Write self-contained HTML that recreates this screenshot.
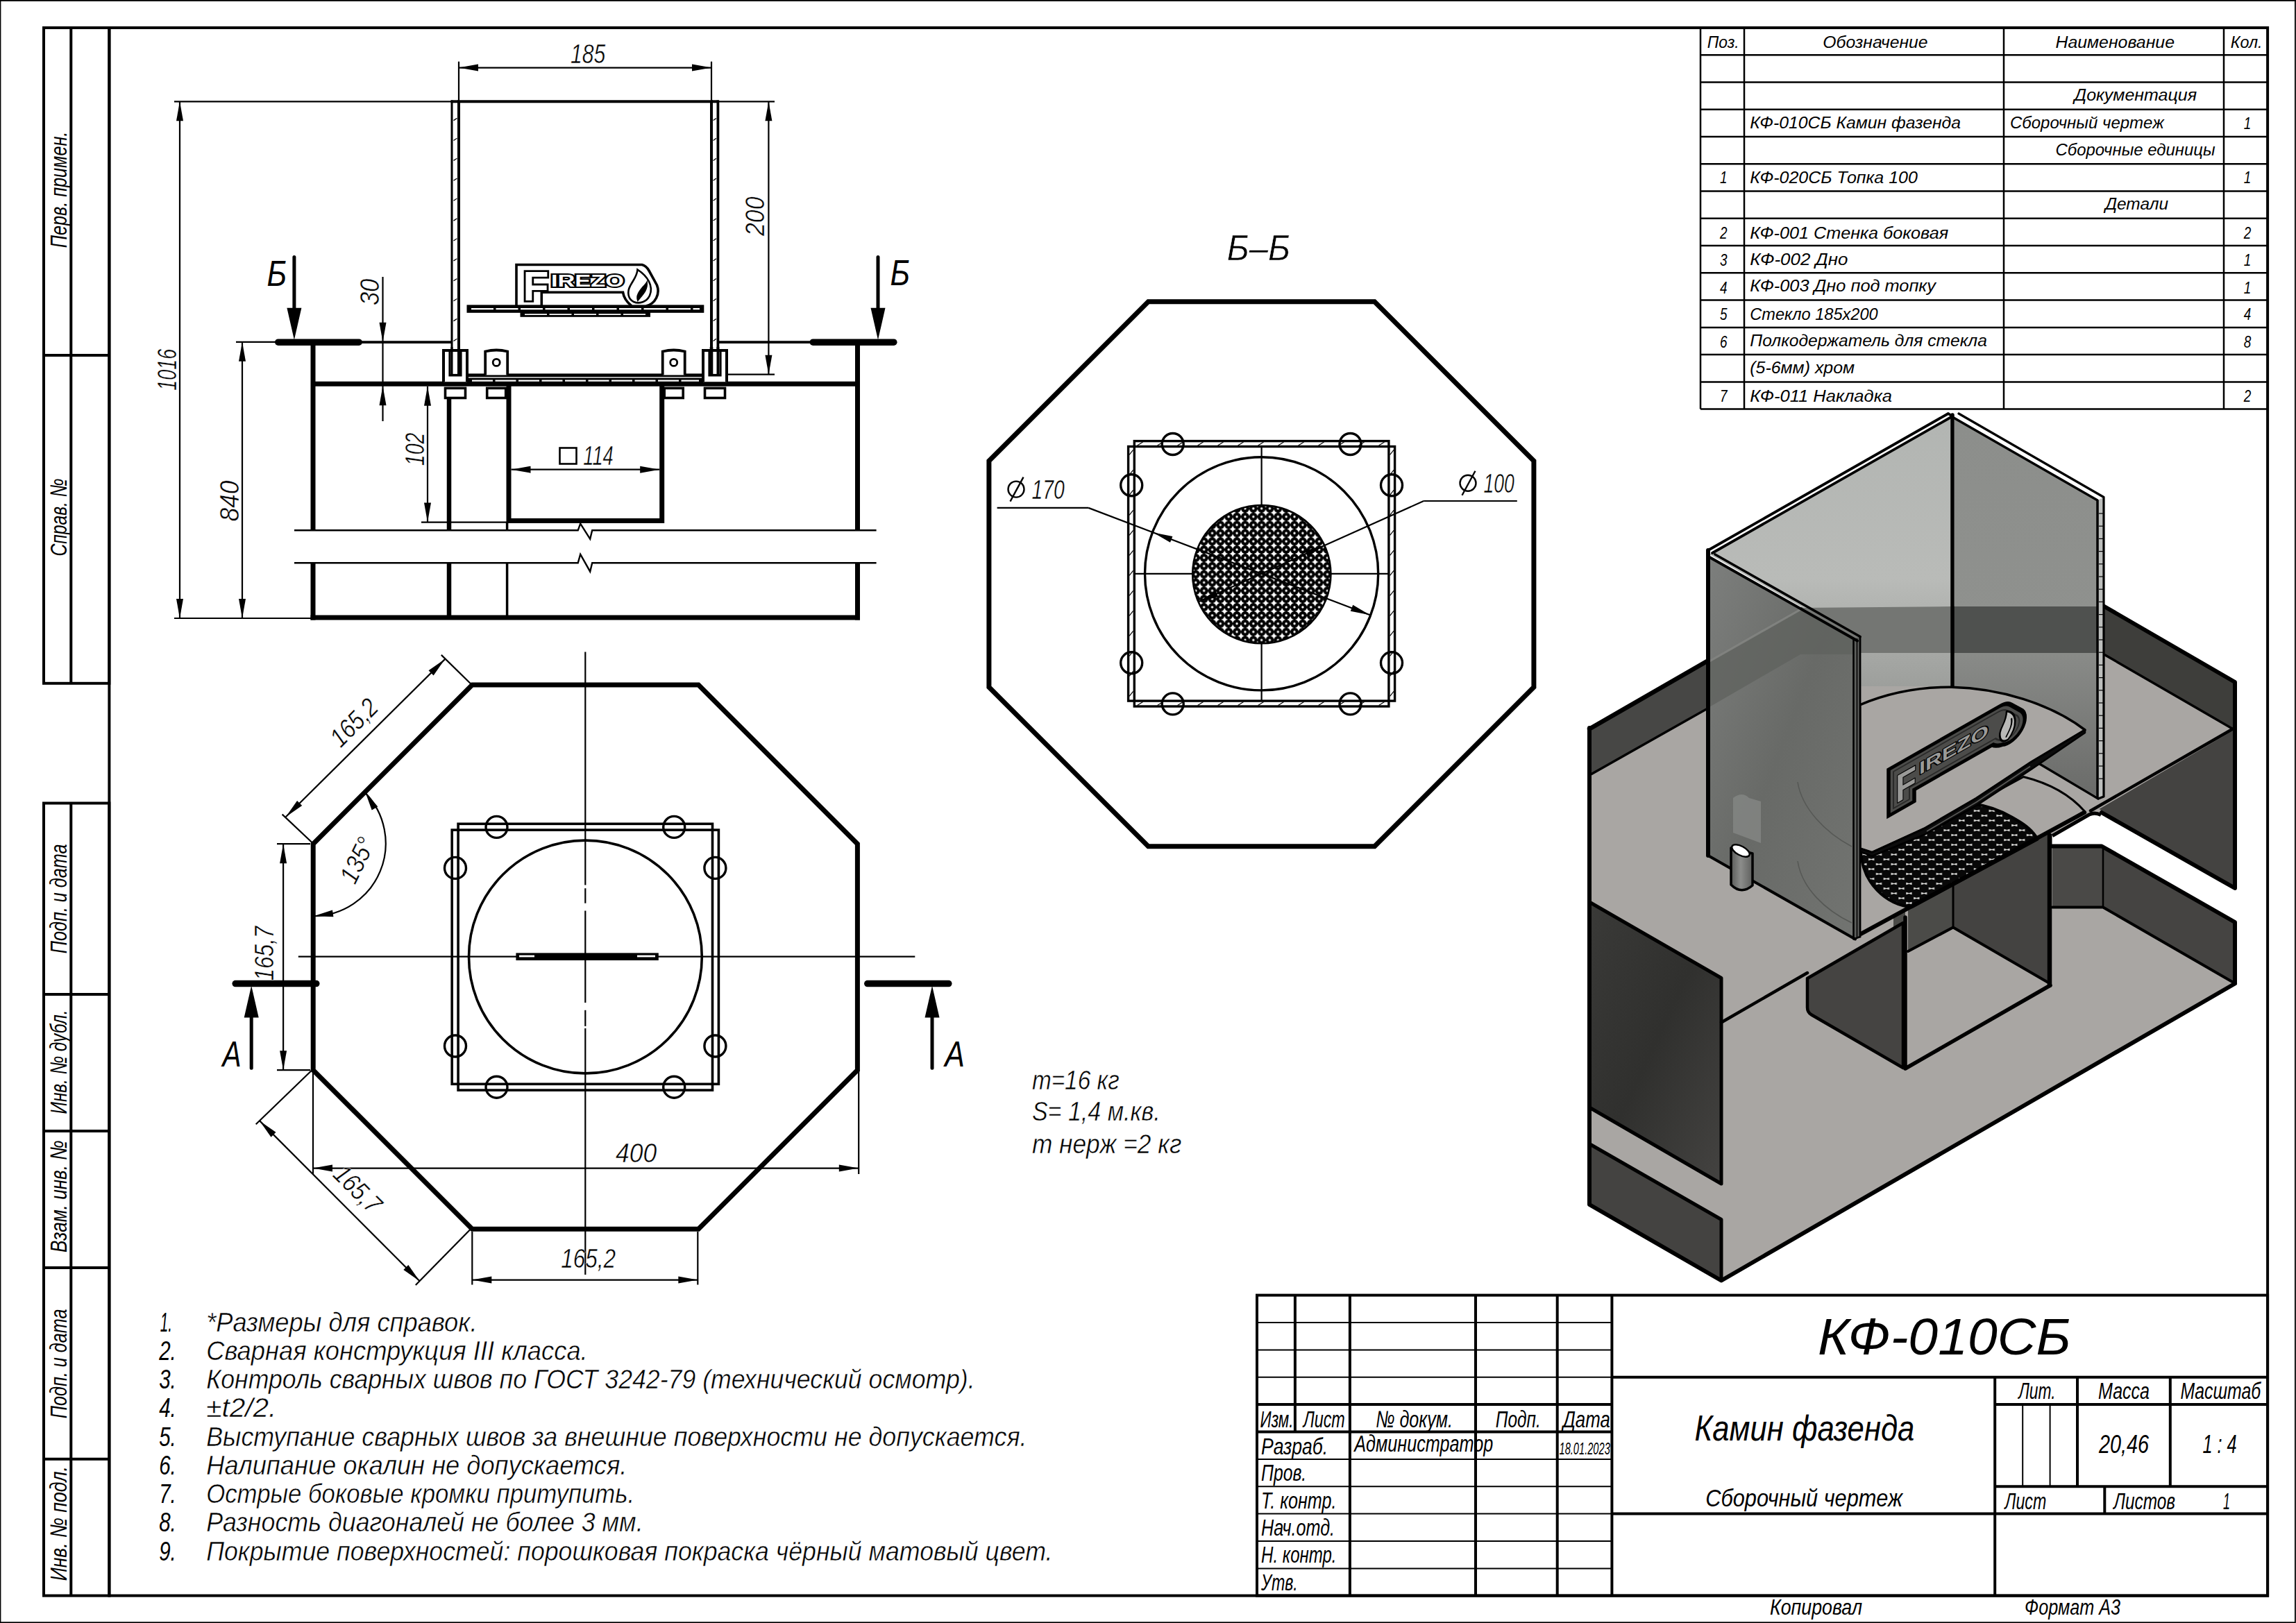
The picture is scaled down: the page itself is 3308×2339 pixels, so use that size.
<!DOCTYPE html>
<html><head><meta charset="utf-8"><title>КФ-010СБ Камин фазенда</title>
<style>
html,body{margin:0;padding:0;background:#fff}
svg{display:block}
text{font-family:"Liberation Sans",sans-serif;fill:#000;stroke:none}
text.g{font-style:italic}
text.w{stroke:#fff;stroke-width:0.5px}
text.a{font-style:italic}
</style></head><body>
<svg width="3308" height="2339" viewBox="0 0 3308 2339" stroke="#000" fill="none" stroke-linecap="butt">
<rect x="0" y="0" width="3308" height="2339" fill="#fff" stroke="none"/>
<g id="frame">
<rect x="0.5" y="0.4" width="3306.4" height="2337.8" stroke-width="1.8" fill="none"/>
<line x1="0" y1="0.8" x2="3308" y2="0.8" stroke-width="1.7" />
<rect x="157.4" y="40" width="3109.7" height="2259.6" stroke-width="4.0" fill="none" />
<rect x="63" y="40" width="94.4" height="944.8" stroke-width="4.0" fill="none" />
<line x1="102.3" y1="40" x2="102.3" y2="984.8" stroke-width="4.0" />
<line x1="63" y1="512" x2="157.4" y2="512" stroke-width="4.0" />
<rect x="63" y="1157.5" width="94.4" height="1142.1" stroke-width="4.0" fill="none" />
<line x1="102.3" y1="1157.5" x2="102.3" y2="2299.6" stroke-width="4.0" />
<line x1="63" y1="1433" x2="157.4" y2="1433" stroke-width="4.0" />
<line x1="63" y1="1630" x2="157.4" y2="1630" stroke-width="4.0" />
<line x1="63" y1="1827" x2="157.4" y2="1827" stroke-width="4.0" />
<line x1="63" y1="2102.8" x2="157.4" y2="2102.8" stroke-width="4.0" />
<rect x="1811" y="1866.6" width="1456.1" height="433" stroke-width="4.0" fill="none" />
<line x1="1944.9" y1="1866.6" x2="1944.9" y2="2299.6" stroke-width="4.0" />
<line x1="2126" y1="1866.6" x2="2126" y2="2299.6" stroke-width="4.0" />
<line x1="2243.7" y1="1866.6" x2="2243.7" y2="2299.6" stroke-width="4.0" />
<line x1="2322.4" y1="1866.6" x2="2322.4" y2="2299.6" stroke-width="4.0" />
<line x1="1865.9" y1="1866.6" x2="1865.9" y2="2063.5" stroke-width="4.0" />
<line x1="2874.2" y1="1984.7" x2="2874.2" y2="2299.6" stroke-width="4.0" />
<line x1="1811" y1="1906" x2="2322.4" y2="1906" stroke-width="2.0" />
<line x1="1811" y1="1945.4" x2="2322.4" y2="1945.4" stroke-width="2.0" />
<line x1="1811" y1="1984.7" x2="2322.4" y2="1984.7" stroke-width="2.0" />
<line x1="1811" y1="2024.1" x2="2322.4" y2="2024.1" stroke-width="4.0" />
<line x1="1811" y1="2063.5" x2="2322.4" y2="2063.5" stroke-width="4.0" />
<line x1="1811" y1="2102.9" x2="2322.4" y2="2102.9" stroke-width="2.0" />
<line x1="1811" y1="2142.3" x2="2322.4" y2="2142.3" stroke-width="2.0" />
<line x1="1811" y1="2181.6" x2="2322.4" y2="2181.6" stroke-width="2.0" />
<line x1="1811" y1="2221" x2="2322.4" y2="2221" stroke-width="2.0" />
<line x1="1811" y1="2260.4" x2="2322.4" y2="2260.4" stroke-width="2.0" />
<line x1="2322.4" y1="1984.7" x2="3267.1" y2="1984.7" stroke-width="4.0" />
<line x1="2322.4" y1="2181.6" x2="3267.1" y2="2181.6" stroke-width="4.0" />
<line x1="2874.2" y1="2024.1" x2="3267.1" y2="2024.1" stroke-width="4.0" />
<line x1="2874.2" y1="2142.3" x2="3267.1" y2="2142.3" stroke-width="4.0" />
<line x1="2993" y1="1984.7" x2="2993" y2="2142.3" stroke-width="4.0" />
<line x1="3126.8" y1="1984.7" x2="3126.8" y2="2142.3" stroke-width="4.0" />
<line x1="2914.2" y1="2024.1" x2="2914.2" y2="2142.3" stroke-width="2.0" />
<line x1="2953.6" y1="2024.1" x2="2953.6" y2="2142.3" stroke-width="2.0" />
<line x1="3032.3" y1="2142.3" x2="3032.3" y2="2181.6" stroke-width="4.0" />
<line x1="2450" y1="79.3" x2="3267.1" y2="79.3" stroke-width="2.5" />
<line x1="2450" y1="118.5" x2="3267.1" y2="118.5" stroke-width="2.5" />
<line x1="2450" y1="157.8" x2="3267.1" y2="157.8" stroke-width="2.5" />
<line x1="2450" y1="197" x2="3267.1" y2="197" stroke-width="2.5" />
<line x1="2450" y1="236.3" x2="3267.1" y2="236.3" stroke-width="2.5" />
<line x1="2450" y1="275.6" x2="3267.1" y2="275.6" stroke-width="2.5" />
<line x1="2450" y1="314.8" x2="3267.1" y2="314.8" stroke-width="2.5" />
<line x1="2450" y1="354.1" x2="3267.1" y2="354.1" stroke-width="2.5" />
<line x1="2450" y1="393.3" x2="3267.1" y2="393.3" stroke-width="2.5" />
<line x1="2450" y1="432.6" x2="3267.1" y2="432.6" stroke-width="2.5" />
<line x1="2450" y1="471.9" x2="3267.1" y2="471.9" stroke-width="2.5" />
<line x1="2450" y1="511.1" x2="3267.1" y2="511.1" stroke-width="2.5" />
<line x1="2450" y1="550.4" x2="3267.1" y2="550.4" stroke-width="2.5" />
<line x1="2450" y1="589.6" x2="3267.1" y2="589.6" stroke-width="2.5" />
<line x1="2450" y1="40" x2="2450" y2="589.6" stroke-width="2.5" />
<line x1="2513" y1="40" x2="2513" y2="589.6" stroke-width="2.5" />
<line x1="2887" y1="40" x2="2887" y2="589.6" stroke-width="2.5" />
<line x1="3204" y1="40" x2="3204" y2="589.6" stroke-width="2.5" />
</g>
<defs>
<pattern id="mesh" x="1811.7" y="821.7" width="11.85" height="11.85" patternUnits="userSpaceOnUse"><rect width="11.85" height="11.85" fill="#fff" stroke="none"/><circle cx="5.925" cy="5.925" r="5.95" fill="#000" stroke="none"/><circle cx="5.925" cy="5.925" r="1.7" fill="#fff" stroke="none"/></pattern>
</defs>
<g id="front">
<line x1="251" y1="146.3" x2="651" y2="146.3" stroke-width="2.2" />
<line x1="259" y1="146.3" x2="259" y2="891" stroke-width="2.2" />
<polygon points="259,146.3 264,174.3 254,174.3" fill="#000" stroke="none"/>
<polygon points="259,891 254,863 264,863" fill="#000" stroke="none"/>
<line x1="251" y1="891" x2="451" y2="891" stroke-width="2.2" />
<line x1="340" y1="492.8" x2="400" y2="492.8" stroke-width="2.2" />
<line x1="349" y1="492.8" x2="349" y2="891" stroke-width="2.2" />
<polygon points="349,492.8 354,520.8 344,520.8" fill="#000" stroke="none"/>
<polygon points="349,891 344,863 354,863" fill="#000" stroke="none"/>
<line x1="661" y1="88.7" x2="661" y2="146.3" stroke-width="2.2" />
<line x1="1025" y1="88.7" x2="1025" y2="146.3" stroke-width="2.2" />
<line x1="661" y1="97.6" x2="1025" y2="97.6" stroke-width="2.2" />
<polygon points="661,97.6 689,92.6 689,102.6" fill="#000" stroke="none"/>
<polygon points="1025,97.6 997,102.6 997,92.6" fill="#000" stroke="none"/>
<line x1="1034.4" y1="146.3" x2="1116" y2="146.3" stroke-width="2.2" />
<line x1="1048" y1="539.7" x2="1116" y2="539.7" stroke-width="2.2" />
<line x1="1107.4" y1="146.3" x2="1107.4" y2="539.7" stroke-width="2.2" />
<polygon points="1107.4,146.3 1112.4,174.3 1102.4,174.3" fill="#000" stroke="none"/>
<polygon points="1107.4,539.7 1102.4,511.7 1112.4,511.7" fill="#000" stroke="none"/>
<line x1="551.5" y1="399" x2="551.5" y2="607" stroke-width="2.2" />
<polygon points="551.5,492.8 546.5,464.8 556.5,464.8" fill="#000" stroke="none"/>
<polygon points="551.5,556.3 556.5,584.3 546.5,584.3" fill="#000" stroke="none"/>
<line x1="616" y1="556.8" x2="616" y2="752.6" stroke-width="2.2" />
<polygon points="616,556.8 621,584.8 611,584.8" fill="#000" stroke="none"/>
<polygon points="616,752.6 611,724.6 621,724.6" fill="#000" stroke="none"/>
<line x1="607" y1="752.6" x2="734" y2="752.6" stroke-width="2.2" />
<line x1="736.5" y1="676.7" x2="950.2" y2="676.7" stroke-width="2.2" />
<polygon points="736.5,676.7 764.5,671.7 764.5,681.7" fill="#000" stroke="none"/>
<polygon points="950.2,676.7 922.2,681.7 922.2,671.7" fill="#000" stroke="none"/>
<rect x="806.5" y="645.5" width="24" height="23" stroke-width="2.6" fill="none" />
<line x1="519" y1="493.1" x2="651" y2="493.1" stroke-width="3.6" />
<line x1="1034.4" y1="493.1" x2="1170" y2="493.1" stroke-width="3.6" />
<line x1="400.8" y1="493.2" x2="517.2" y2="493.2" stroke-width="9.5" stroke-linecap="round"/>
<line x1="423.9" y1="370.6" x2="423.9" y2="460" stroke-width="5" stroke-linecap="round"/>
<polygon points="423.9,489.8 413.4,443.8 434.4,443.8" fill="#000" stroke="none"/>
<line x1="1171.3" y1="493.2" x2="1287.8" y2="493.2" stroke-width="9.5" stroke-linecap="round"/>
<line x1="1265" y1="370.6" x2="1265" y2="460" stroke-width="5" stroke-linecap="round"/>
<polygon points="1265,489.8 1254.5,443.8 1275.5,443.8" fill="#000" stroke="none"/>
<line x1="451" y1="492.8" x2="451" y2="764.4" stroke-width="7.0" />
<line x1="451" y1="811.3" x2="451" y2="893.5" stroke-width="7.0" />
<line x1="1235.5" y1="492.8" x2="1235.5" y2="764.4" stroke-width="7.0" />
<line x1="1235.5" y1="811.3" x2="1235.5" y2="893.5" stroke-width="7.0" />
<line x1="447.5" y1="890" x2="1239" y2="890" stroke-width="7.0" />
<line x1="451" y1="553.3" x2="1235.5" y2="553.3" stroke-width="7.0" />
<line x1="647" y1="573" x2="647" y2="764.4" stroke-width="6.5" />
<line x1="647" y1="811.3" x2="647" y2="890" stroke-width="6.5" />
<line x1="730.6" y1="752" x2="730.6" y2="764.4" stroke-width="3.5" />
<line x1="730.6" y1="811.3" x2="730.6" y2="890" stroke-width="3.5" />
<polyline points="733,553.3 733,750.6 953.7,750.6 953.7,553.3" stroke-width="7.0" fill="none" />
<polyline points="424,764.3 832.7,764.3 836.2,754.6 850.2,776.8 853.2,764.3 1262.6,764.3" stroke-width="2.4" fill="none" />
<polyline points="424,811.3 832.7,811.3 836.2,798.8 850.2,823.7 853.2,811.3 1262.6,811.3" stroke-width="2.4" fill="none" />
<rect x="661" y="146.3" width="364" height="394.1" stroke-width="4.0" fill="none" />
<line x1="651" y1="144.4" x2="651" y2="540.4" stroke-width="3.0" />
<line x1="1034.4" y1="144.4" x2="1034.4" y2="540.4" stroke-width="3.8" />
<line x1="649.6" y1="146.3" x2="661" y2="146.3" stroke-width="4.0" />
<line x1="1025" y1="146.3" x2="1035.8" y2="146.3" stroke-width="4.0" />
<line x1="653.5" y1="173.6" x2="658.4" y2="170.4" stroke-width="1.3" />
<line x1="1027.6" y1="173.6" x2="1031.9" y2="170.4" stroke-width="1.3" />
<line x1="653.5" y1="202.5" x2="658.4" y2="199.3" stroke-width="1.3" />
<line x1="1027.6" y1="202.5" x2="1031.9" y2="199.3" stroke-width="1.3" />
<line x1="653.5" y1="231.4" x2="658.4" y2="228.2" stroke-width="1.3" />
<line x1="1027.6" y1="231.4" x2="1031.9" y2="228.2" stroke-width="1.3" />
<line x1="653.5" y1="260.3" x2="658.4" y2="257.1" stroke-width="1.3" />
<line x1="1027.6" y1="260.3" x2="1031.9" y2="257.1" stroke-width="1.3" />
<line x1="653.5" y1="289.2" x2="658.4" y2="286" stroke-width="1.3" />
<line x1="1027.6" y1="289.2" x2="1031.9" y2="286" stroke-width="1.3" />
<line x1="653.5" y1="318.1" x2="658.4" y2="314.9" stroke-width="1.3" />
<line x1="1027.6" y1="318.1" x2="1031.9" y2="314.9" stroke-width="1.3" />
<line x1="653.5" y1="347" x2="658.4" y2="343.8" stroke-width="1.3" />
<line x1="1027.6" y1="347" x2="1031.9" y2="343.8" stroke-width="1.3" />
<line x1="653.5" y1="375.9" x2="658.4" y2="372.7" stroke-width="1.3" />
<line x1="1027.6" y1="375.9" x2="1031.9" y2="372.7" stroke-width="1.3" />
<line x1="653.5" y1="404.8" x2="658.4" y2="401.6" stroke-width="1.3" />
<line x1="1027.6" y1="404.8" x2="1031.9" y2="401.6" stroke-width="1.3" />
<line x1="653.5" y1="433.7" x2="658.4" y2="430.5" stroke-width="1.3" />
<line x1="1027.6" y1="433.7" x2="1031.9" y2="430.5" stroke-width="1.3" />
<line x1="653.5" y1="462.6" x2="658.4" y2="459.4" stroke-width="1.3" />
<line x1="1027.6" y1="462.6" x2="1031.9" y2="459.4" stroke-width="1.3" />
<line x1="653.5" y1="491.5" x2="658.4" y2="488.3" stroke-width="1.3" />
<line x1="1027.6" y1="491.5" x2="1031.9" y2="488.3" stroke-width="1.3" />
<line x1="653.5" y1="520.4" x2="658.4" y2="517.2" stroke-width="1.3" />
<line x1="1027.6" y1="520.4" x2="1031.9" y2="517.2" stroke-width="1.3" />
<line x1="674" y1="541.4" x2="1012.8" y2="541.4" stroke-width="3.6" />
<rect x="674" y="544.6" width="338.8" height="8.4" stroke-width="0" fill="#000" stroke="none"/>
<line x1="680" y1="548.7" x2="1007" y2="548.7" stroke-width="2.2" stroke="#fff" stroke-dasharray="30 3.5"/>
<polyline points="639,550.3 639,505 673,505 673,550.3" stroke-width="4" fill="#fff" />
<polyline points="648,507 648,540.9 664,540.9 664,507" stroke-width="3.2" fill="none" />
<rect x="641.5" y="559.4" width="29" height="14.1" stroke-width="3.6" fill="#fff" />
<polyline points="1013,550.3 1013,505 1047,505 1047,550.3" stroke-width="4" fill="#fff" />
<polyline points="1022,507 1022,540.9 1038,540.9 1038,507" stroke-width="3.2" fill="none" />
<rect x="1015.5" y="559.4" width="29" height="14.1" stroke-width="3.6" fill="#fff" />
<path d="M699.2,540.4 L699.2,506.5 Q715.2,502.5 731.2,506.5 L731.2,540.4" stroke-width="3.8" fill="#fff"/>
<circle cx="715.2" cy="522.4" r="5" stroke-width="2.8" fill="none" />
<rect x="701.7" y="559.4" width="27" height="14.1" stroke-width="3.6" fill="#fff" />
<path d="M954.7,540.4 L954.7,506.5 Q970.7,502.5 986.7,506.5 L986.7,540.4" stroke-width="3.8" fill="#fff"/>
<circle cx="970.7" cy="522.4" r="5" stroke-width="2.8" fill="none" />
<rect x="957.2" y="559.4" width="27" height="14.1" stroke-width="3.6" fill="#fff" />
<line x1="651" y1="500" x2="651" y2="540.4" stroke-width="3.0" />
<line x1="661" y1="500" x2="661" y2="540.4" stroke-width="4.0" />
<line x1="1025" y1="500" x2="1025" y2="540.4" stroke-width="4.6" />
<line x1="1034.4" y1="500" x2="1034.4" y2="540.4" stroke-width="3.8" />
<line x1="650" y1="540.4" x2="663" y2="540.4" stroke-width="3" />
<line x1="1023" y1="540.4" x2="1035.4" y2="540.4" stroke-width="3" />
<rect x="672.5" y="439.4" width="341.8" height="11.4" stroke-width="0" fill="#000" stroke="none"/>
<line x1="679" y1="445.1" x2="1008" y2="445.1" stroke-width="2.3" stroke="#fff" stroke-dasharray="32 3.5"/>
<rect x="749.5" y="450" width="187.5" height="6.8" stroke-width="0" fill="#000" stroke="none"/>
<line x1="756" y1="453.2" x2="931" y2="453.2" stroke-width="1.7" stroke="#fff" stroke-dasharray="32 3.5"/>
<path d="M744,441 L744,381.5 L925,381.5 Q931,383 935,390 L946.5,411 A22.5,22.5 0 0 1 931,441 M780.3,441 L780.3,421.3 L897.5,421.3 Q899,432 910,441" stroke-width="3.6" fill="none" stroke-linejoin="miter"/>
<text x="753.5" y="433" font-size="58.5" font-weight="bold" textLength="37" lengthAdjust="spacingAndGlyphs" style="fill:#fff;stroke:#000;stroke-width:5.6px;stroke-linejoin:miter;paint-order:stroke;font-family:'Liberation Sans',sans-serif;font-style:normal">F</text>
<text x="794" y="413.2" font-size="24" font-weight="bold" textLength="105" lengthAdjust="spacingAndGlyphs" style="fill:#fff;stroke:#000;stroke-width:5.6px;stroke-linejoin:miter;paint-order:stroke;font-family:'Liberation Sans',sans-serif;font-style:normal;stroke-width:4px">IREZO</text>
<path d="M918.5,388.5 C933,398 942,412 936,426 C932,435 921,438.5 913,435 C905,431.5 903,421 908,412 C912,404 918,398 918.5,388.5 Z" stroke-width="2.6" fill="#fff"/>
<path d="M932,407 C933,418 926,424 919,433 C916,426 922,419 926,414 C929,411 931,409 932,407 Z" stroke-width="2" fill="#000"/>
</g>
<g id="top">
<line x1="843.3" y1="939.5" x2="843.3" y2="1275.6" stroke-width="2.2" />
<line x1="843.3" y1="1280.2" x2="843.3" y2="1301.7" stroke-width="2.2" />
<line x1="843.3" y1="1312.5" x2="843.3" y2="1445" stroke-width="2.2" />
<line x1="843.3" y1="1455.8" x2="843.3" y2="1478.9" stroke-width="2.2" />
<line x1="843.3" y1="1482" x2="843.3" y2="1837" stroke-width="2.2" />
<line x1="429.8" y1="1378.6" x2="1318.3" y2="1378.6" stroke-width="2.2" />
<line x1="399" y1="1216.2" x2="447" y2="1216.2" stroke-width="2.2" />
<line x1="399" y1="1542.2" x2="447" y2="1542.2" stroke-width="2.2" />
<line x1="408.1" y1="1216.2" x2="408.1" y2="1542.2" stroke-width="2.2" />
<polygon points="408.1,1216.2 413.1,1244.2 403.1,1244.2" fill="#000" stroke="none"/>
<polygon points="408.1,1542.2 403.1,1514.2 413.1,1514.2" fill="#000" stroke="none"/>
<line x1="451" y1="1542" x2="451" y2="1692" stroke-width="2.2" />
<line x1="1237.2" y1="1542" x2="1237.2" y2="1692" stroke-width="2.2" />
<line x1="451" y1="1683.6" x2="1236.8" y2="1683.6" stroke-width="2.2" />
<polygon points="451,1683.6 479,1678.6 479,1688.6" fill="#000" stroke="none"/>
<polygon points="1236.8,1683.6 1208.8,1688.6 1208.8,1678.6" fill="#000" stroke="none"/>
<line x1="680.3" y1="1775" x2="680.3" y2="1851.5" stroke-width="2.2" />
<line x1="1005.3" y1="1775" x2="1005.3" y2="1851.5" stroke-width="2.2" />
<line x1="680.3" y1="1844.6" x2="1005.3" y2="1844.6" stroke-width="2.2" />
<polygon points="680.3,1844.6 708.3,1839.6 708.3,1849.6" fill="#000" stroke="none"/>
<polygon points="1005.3,1844.6 977.3,1849.6 977.3,1839.6" fill="#000" stroke="none"/>
<line x1="680.1" y1="987.3" x2="635.8" y2="943.9" stroke-width="2.2" />
<line x1="451" y1="1215.5" x2="406.6" y2="1173.6" stroke-width="2.2" />
<line x1="640.9" y1="950.1" x2="411.8" y2="1177.3" stroke-width="2.2" />
<polygon points="640.9,950.1 624.6,973.4 617.5,966.3" fill="#000" stroke="none"/>
<polygon points="411.8,1177.3 428.1,1154 435.2,1161.1" fill="#000" stroke="none"/>
<line x1="451" y1="1540.8" x2="368.7" y2="1620.3" stroke-width="2.2" />
<line x1="680.1" y1="1769.2" x2="598.8" y2="1852" stroke-width="2.2" />
<line x1="374.2" y1="1615.4" x2="604.6" y2="1846.3" stroke-width="2.2" />
<polygon points="374.2,1615.4 397.5,1631.7 390.5,1638.7" fill="#000" stroke="none"/>
<polygon points="604.6,1846.3 581.3,1830 588.3,1823" fill="#000" stroke="none"/>
<path d="M525.2,1141.6 A104.7,104.7 0 0 1 451,1320.2" stroke-width="2.2" fill="none"/>
<polygon points="526,1140.8 544.3,1162.5 535.7,1167.5" fill="#000" stroke="none"/>
<polygon points="452,1320.2 479,1311.4 480.4,1321.3" fill="#000" stroke="none"/>
<polygon points="680.3,987.1 1006.3,987.1 1235.4,1216.2 1235.4,1542.2 1006.3,1771.3 680.3,1771.3 451.2,1542.2 451.2,1216.2" stroke-width="7.0" fill="none" stroke-linejoin="miter"/>
<circle cx="715.5" cy="1191.9" r="15.5" stroke-width="3.4" fill="#fff" />
<circle cx="971.2" cy="1191.9" r="15.5" stroke-width="3.4" fill="#fff" />
<circle cx="715.5" cy="1566.7" r="15.5" stroke-width="3.4" fill="#fff" />
<circle cx="971.2" cy="1566.7" r="15.5" stroke-width="3.4" fill="#fff" />
<circle cx="656" cy="1250.9" r="15.5" stroke-width="3.4" fill="#fff" />
<circle cx="656" cy="1507.5" r="15.5" stroke-width="3.4" fill="#fff" />
<circle cx="1030.4" cy="1250.9" r="15.5" stroke-width="3.4" fill="#fff" />
<circle cx="1030.4" cy="1507.5" r="15.5" stroke-width="3.4" fill="#fff" />
<rect x="660.1" y="1187.3" width="366.4" height="383.8" stroke-width="3.6" fill="none" />
<rect x="651.2" y="1196.1" width="384.2" height="366.2" stroke-width="3.6" fill="none" />
<circle cx="843.4" cy="1379" r="167.9" stroke-width="3.6" fill="none" />
<rect x="744.2" y="1374.2" width="203.8" height="9" stroke-width="1.6" fill="#000" />
<rect x="748" y="1376.6" width="22" height="2.8" stroke-width="0" fill="#fff" stroke="none"/>
<rect x="918" y="1376.6" width="26" height="2.8" stroke-width="0" fill="#fff" stroke="none"/>
<line x1="339.2" y1="1417.6" x2="455.8" y2="1417.6" stroke-width="9.5" stroke-linecap="round"/>
<line x1="362.2" y1="1450" x2="362.2" y2="1539.3" stroke-width="5" stroke-linecap="round"/>
<polygon points="362.2,1420.5 372.7,1466.5 351.7,1466.5" fill="#000" stroke="none"/>
<line x1="1249.8" y1="1417.6" x2="1366.8" y2="1417.6" stroke-width="9.5" stroke-linecap="round"/>
<line x1="1343" y1="1450" x2="1343" y2="1539.3" stroke-width="5" stroke-linecap="round"/>
<polygon points="1343,1420.5 1353.5,1466.5 1332.5,1466.5" fill="#000" stroke="none"/>
</g>
<g id="bb">
<polygon points="1654.4,434.8 1980.4,434.8 2209.9,664.3 2209.9,990.3 1980.4,1219.8 1654.4,1219.8 1424.9,990.3 1424.9,664.3" stroke-width="7.0" fill="none" stroke-linejoin="miter"/>
<circle cx="1689.7" cy="640" r="15.5" stroke-width="3.4" fill="#fff" />
<circle cx="1945.5" cy="640" r="15.5" stroke-width="3.4" fill="#fff" />
<circle cx="1689.7" cy="1014.4" r="15.5" stroke-width="3.4" fill="#fff" />
<circle cx="1945.5" cy="1014.4" r="15.5" stroke-width="3.4" fill="#fff" />
<circle cx="1630.2" cy="699.3" r="15.5" stroke-width="3.4" fill="#fff" />
<circle cx="1630.2" cy="955.3" r="15.5" stroke-width="3.4" fill="#fff" />
<circle cx="2005" cy="699.3" r="15.5" stroke-width="3.4" fill="#fff" />
<circle cx="2005" cy="955.3" r="15.5" stroke-width="3.4" fill="#fff" />
<rect x="1634.3" y="635.6" width="366.6" height="382.4" stroke-width="3.4" fill="none" />
<rect x="1625.6" y="643.5" width="384" height="366.6" stroke-width="3.4" fill="none" />
<line x1="1627.1" y1="655.3" x2="1632.6" y2="648.3" stroke-width="1.2" />
<line x1="2002.6" y1="655.3" x2="2008.1" y2="648.3" stroke-width="1.2" />
<line x1="1638.6" y1="642" x2="1646.6" y2="637.1" stroke-width="1.2" />
<line x1="1638.6" y1="1016.5" x2="1646.6" y2="1011.6" stroke-width="1.2" />
<line x1="1627.1" y1="684.3" x2="1632.6" y2="677.3" stroke-width="1.2" />
<line x1="2002.6" y1="684.3" x2="2008.1" y2="677.3" stroke-width="1.2" />
<line x1="1667.6" y1="642" x2="1675.6" y2="637.1" stroke-width="1.2" />
<line x1="1667.6" y1="1016.5" x2="1675.6" y2="1011.6" stroke-width="1.2" />
<line x1="1627.1" y1="713.3" x2="1632.6" y2="706.3" stroke-width="1.2" />
<line x1="2002.6" y1="713.3" x2="2008.1" y2="706.3" stroke-width="1.2" />
<line x1="1696.6" y1="642" x2="1704.6" y2="637.1" stroke-width="1.2" />
<line x1="1696.6" y1="1016.5" x2="1704.6" y2="1011.6" stroke-width="1.2" />
<line x1="1627.1" y1="742.3" x2="1632.6" y2="735.3" stroke-width="1.2" />
<line x1="2002.6" y1="742.3" x2="2008.1" y2="735.3" stroke-width="1.2" />
<line x1="1725.6" y1="642" x2="1733.6" y2="637.1" stroke-width="1.2" />
<line x1="1725.6" y1="1016.5" x2="1733.6" y2="1011.6" stroke-width="1.2" />
<line x1="1627.1" y1="771.3" x2="1632.6" y2="764.3" stroke-width="1.2" />
<line x1="2002.6" y1="771.3" x2="2008.1" y2="764.3" stroke-width="1.2" />
<line x1="1754.6" y1="642" x2="1762.6" y2="637.1" stroke-width="1.2" />
<line x1="1754.6" y1="1016.5" x2="1762.6" y2="1011.6" stroke-width="1.2" />
<line x1="1627.1" y1="800.3" x2="1632.6" y2="793.3" stroke-width="1.2" />
<line x1="2002.6" y1="800.3" x2="2008.1" y2="793.3" stroke-width="1.2" />
<line x1="1783.6" y1="642" x2="1791.6" y2="637.1" stroke-width="1.2" />
<line x1="1783.6" y1="1016.5" x2="1791.6" y2="1011.6" stroke-width="1.2" />
<line x1="1627.1" y1="829.3" x2="1632.6" y2="822.3" stroke-width="1.2" />
<line x1="2002.6" y1="829.3" x2="2008.1" y2="822.3" stroke-width="1.2" />
<line x1="1812.6" y1="642" x2="1820.6" y2="637.1" stroke-width="1.2" />
<line x1="1812.6" y1="1016.5" x2="1820.6" y2="1011.6" stroke-width="1.2" />
<line x1="1627.1" y1="858.3" x2="1632.6" y2="851.3" stroke-width="1.2" />
<line x1="2002.6" y1="858.3" x2="2008.1" y2="851.3" stroke-width="1.2" />
<line x1="1841.6" y1="642" x2="1849.6" y2="637.1" stroke-width="1.2" />
<line x1="1841.6" y1="1016.5" x2="1849.6" y2="1011.6" stroke-width="1.2" />
<line x1="1627.1" y1="887.3" x2="1632.6" y2="880.3" stroke-width="1.2" />
<line x1="2002.6" y1="887.3" x2="2008.1" y2="880.3" stroke-width="1.2" />
<line x1="1870.6" y1="642" x2="1878.6" y2="637.1" stroke-width="1.2" />
<line x1="1870.6" y1="1016.5" x2="1878.6" y2="1011.6" stroke-width="1.2" />
<line x1="1627.1" y1="916.3" x2="1632.6" y2="909.3" stroke-width="1.2" />
<line x1="2002.6" y1="916.3" x2="2008.1" y2="909.3" stroke-width="1.2" />
<line x1="1899.6" y1="642" x2="1907.6" y2="637.1" stroke-width="1.2" />
<line x1="1899.6" y1="1016.5" x2="1907.6" y2="1011.6" stroke-width="1.2" />
<line x1="1627.1" y1="945.3" x2="1632.6" y2="938.3" stroke-width="1.2" />
<line x1="2002.6" y1="945.3" x2="2008.1" y2="938.3" stroke-width="1.2" />
<line x1="1928.6" y1="642" x2="1936.6" y2="637.1" stroke-width="1.2" />
<line x1="1928.6" y1="1016.5" x2="1936.6" y2="1011.6" stroke-width="1.2" />
<line x1="1627.1" y1="974.3" x2="1632.6" y2="967.3" stroke-width="1.2" />
<line x1="2002.6" y1="974.3" x2="2008.1" y2="967.3" stroke-width="1.2" />
<line x1="1957.6" y1="642" x2="1965.6" y2="637.1" stroke-width="1.2" />
<line x1="1957.6" y1="1016.5" x2="1965.6" y2="1011.6" stroke-width="1.2" />
<line x1="1627.1" y1="1003.3" x2="1632.6" y2="996.3" stroke-width="1.2" />
<line x1="2002.6" y1="1003.3" x2="2008.1" y2="996.3" stroke-width="1.2" />
<line x1="1986.6" y1="642" x2="1994.6" y2="637.1" stroke-width="1.2" />
<line x1="1986.6" y1="1016.5" x2="1994.6" y2="1011.6" stroke-width="1.2" />
<circle cx="1817.6" cy="826.8" r="168.1" stroke-width="3.4" fill="none" />
<line x1="1817.6" y1="643.8" x2="1817.6" y2="1009.8" stroke-width="2.2" />
<line x1="1634.6" y1="826.8" x2="2000.6" y2="826.8" stroke-width="2.2" />
<circle cx="1817.8" cy="827.6" r="99.6" stroke-width="2.6" fill="url(#mesh)" />
<line x1="1436.6" y1="731.9" x2="1568.2" y2="731.9" stroke-width="2.2" />
<line x1="1568.2" y1="731.9" x2="1973.7" y2="886.2" stroke-width="2.2" />
<polygon points="1973.7,886.2 1945.8,880.7 1949.2,871.8" fill="#000" stroke="none"/>
<polygon points="1661.5,767.4 1689.4,772.9 1686,781.8" fill="#000" stroke="none"/>
<line x1="2051.2" y1="722" x2="2185.8" y2="722" stroke-width="2.2" />
<line x1="2051.2" y1="722" x2="1727.7" y2="867.1" stroke-width="2.2" />
<polygon points="1727.7,867.1 1751.3,851.3 1755.2,860" fill="#000" stroke="none"/>
<polygon points="1907.5,786.5 1883.9,802.3 1880,793.6" fill="#000" stroke="none"/>
</g>
<defs>
<linearGradient id="gBL" x1="0" y1="0" x2="0" y2="1"><stop offset="0" stop-color="#b2b5b2"/><stop offset="0.6" stop-color="#b9bbb8"/><stop offset="1" stop-color="#9d9f9c"/></linearGradient>
<linearGradient id="gBR" x1="0" y1="0" x2="0" y2="1"><stop offset="0" stop-color="#8c8e8b"/><stop offset="0.55" stop-color="#8f918e"/><stop offset="1" stop-color="#6a6b69"/></linearGradient>
<linearGradient id="gFL" x1="0" y1="0" x2="1" y2="1"><stop offset="0" stop-color="#7d7f7d"/><stop offset="0.5" stop-color="#686a67"/><stop offset="1" stop-color="#727471"/></linearGradient>
<linearGradient id="gDK2" x1="0" y1="0" x2="1" y2="1"><stop offset="0" stop-color="#3a3a38"/><stop offset="0.5" stop-color="#30302e"/><stop offset="1" stop-color="#444341"/></linearGradient>
<pattern id="mesh3" x="2680" y="1228" width="21.7" height="14" patternUnits="userSpaceOnUse"><rect width="21.7" height="14" fill="#080808" stroke="none"/><path d="M1.2,1.8 L5.3,2.9 L9.4,1.8 L9.4,5.2 L5.3,4.1 L1.2,5.2 Z M12.05,8.8 L16.15,9.9 L20.25,8.8 L20.25,12.2 L16.15,11.1 L12.05,12.2 Z" fill="#dcdcda" stroke="none"/></pattern>
<linearGradient id="gCyl" x1="0" y1="0" x2="1" y2="0"><stop offset="0" stop-color="#5a5b59"/><stop offset="0.45" stop-color="#8c8d8b"/><stop offset="1" stop-color="#5e5f5d"/></linearGradient>
</defs>
<g id="iso" stroke-linejoin="round">
<polygon points="2287,1049 2594,875 3031,872 3221,982.6 3221,1417 2480,1846 2287,1736" fill="#a9a6a3" stroke="none" />
<polygon points="2290,1051 2594,877 2594,942.5 2292,1115.5" fill="#474745" stroke="none" />
<polygon points="2594,875 3031,873 3031,943 2594,940" fill="#50524f" stroke="none" />
<polygon points="3031,874 3219,983 3219,1050 3031,943" fill="#3e3e3b" stroke="none" />
<polygon points="3024.5,1166 3217,1053 3217,1279" fill="#444341" stroke="none" />
<path d="M2957,1204 L3010,1173.5 Q3018,1169.5 3026,1173.5 L3219,1280.5 L3240,1292 L3240,1340 L3219,1327.5 L3034,1220.5 Q3030,1218.5 3024,1218.5 L2957,1218.5 Z" fill="#fff" stroke="none"/>
<polygon points="3219,1279 3240,1270 3240,1330 3223,1328" fill="#fff" stroke="none" />
<polygon points="2957,1220 3030,1220 3030,1307 2957,1307" fill="#4a4947" stroke="none" />
<polygon points="3030,1220 3219,1329 3219,1417 3030,1307" fill="#454442" stroke="none" />
<polygon points="2749,1309 2814,1274 2814,1336.5 2749,1371" fill="#4b4b48" stroke="none" />
<polygon points="2814,1274 2951,1199.5 2951,1416 2814,1336.5" fill="#444341" stroke="none" />
<polygon points="2728,1321 2745,1311.5 2745,1340 2728,1350" fill="#4b4b48" stroke="none" />
<path d="M2604,1410 L2742,1330 L2742,1539 L2610,1462.5 Q2604,1459 2604,1452 Z" fill="#454442" stroke="#000" stroke-width="4.5"/>
<polygon points="2290,1301 2479,1410 2479,1706 2290,1596" fill="url(#gDK2)" stroke="none" />
<polygon points="2290,1649 2479,1758 2479,1845 2290,1735" fill="#444341" stroke="none" />
<polyline points="2290,1049 2290,1736 2480,1845.5 3220,1417.5" stroke-width="6" fill="none" stroke-linejoin="round" stroke-linecap="round"/>
<polyline points="2290,1050.5 2461,952" stroke-width="6.5" fill="none" stroke-linejoin="round" stroke-linecap="round"/>
<polyline points="2293,1115.5 2461,1020.5" stroke-width="3.5" fill="none" stroke-linejoin="round" stroke-linecap="round"/>
<polyline points="2290,1300 2480,1409.5 2480,1706 2290,1596" stroke-width="5" fill="none" stroke-linejoin="round" stroke-linecap="round"/>
<polyline points="2290,1648.5 2480,1757.5 2480,1845" stroke-width="5" fill="none" stroke-linejoin="round" stroke-linecap="round"/>
<polyline points="2480,1473.5 2604,1402" stroke-width="4.5" fill="none" stroke-linejoin="round" stroke-linecap="round"/>
<polyline points="2745,1322 2745,1540 2954,1420" stroke-width="5.5" fill="none" stroke-linejoin="round" stroke-linecap="round"/>
<polyline points="2953,1204 2953,1420" stroke-width="6.5" fill="none" stroke-linejoin="round" stroke-linecap="round"/>
<polyline points="2749,1371 2814,1336.5 2951,1416" stroke-width="4" fill="none" stroke-linejoin="round" stroke-linecap="round"/>
<polyline points="2814,1275 2814,1336" stroke-width="3" fill="none" stroke-linejoin="round" stroke-linecap="round"/>
<polyline points="3031,873.5 3220,983 3220,1280 3028,1171" stroke-width="6" fill="none" stroke-linejoin="round" stroke-linecap="round"/>
<polyline points="3033,944 3217,1050.5" stroke-width="3.5" fill="none" stroke-linejoin="round" stroke-linecap="round"/>
<polyline points="3217,1050.5 3012,1168.5" stroke-width="4.5" fill="none" stroke-linejoin="round" stroke-linecap="round"/>
<polyline points="2957,1219.5 3028,1219.5 3220,1329 3220,1417" stroke-width="6" fill="none" stroke-linejoin="round" stroke-linecap="round"/>
<polyline points="2957,1307.5 3030,1307.5 3218,1416" stroke-width="4" fill="none" stroke-linejoin="round" stroke-linecap="round"/>
<polyline points="3030,1222 3030,1306" stroke-width="2.5" fill="none" stroke-linejoin="round" stroke-linecap="round"/>
<path d="M2957,1204.5 L3010,1174 Q3018,1170 3027,1174.5" stroke-width="5" fill="none"/>
<path d="M2839.6,1160.7 L2915.4,1119.5 Q2972.7,1133.9 3003.2,1169.1 L2935.7,1208.8 Q2917.3,1174.6 2839.6,1160.7 Z" fill="#a9a6a3" stroke="#000" stroke-width="3"/>
<path d="M2681,1226 L2697,1232 L2773.6,1200 L2846.6,1159 C2880.3,1163.5 2922.8,1187.5 2935.7,1209.4 L2754.6,1307.3 C2717.6,1304 2682.5,1272.6 2681,1226 Z" fill="url(#mesh3)" stroke="#000" stroke-width="4"/>
<polyline points="2681.6,1345.6 3003.2,1170.9" stroke-width="6" fill="none" stroke-linejoin="round" stroke-linecap="round"/>
<polygon points="2463,799 2811,601 2811,989 2676,989 2676,921" fill="url(#gBL)" stroke="none" />
<polygon points="2594,876 2811,874 2811,941 2676,941 2676,921 2594,876" fill="#747673" stroke="none" />
<polygon points="2816,601 3022,721 3022,1148 2938,1100 2880,1035 2816,989" fill="url(#gBR)" stroke="none" />
<polygon points="2816,874 3022,874 3022,941 2816,941" fill="#4f514f" stroke="none" />
<polygon points="3022,721 3031,716.5 3031,1148 3022,1150" fill="#bdbfbd" stroke="none" />
<line x1="3024" y1="740" x2="3030" y2="740" stroke-width="1.2" />
<line x1="3024" y1="758.2" x2="3030" y2="758.2" stroke-width="1.2" />
<line x1="3024" y1="776.4" x2="3030" y2="776.4" stroke-width="1.2" />
<line x1="3024" y1="794.6" x2="3030" y2="794.6" stroke-width="1.2" />
<line x1="3024" y1="812.8" x2="3030" y2="812.8" stroke-width="1.2" />
<line x1="3024" y1="831" x2="3030" y2="831" stroke-width="1.2" />
<line x1="3024" y1="849.2" x2="3030" y2="849.2" stroke-width="1.2" />
<line x1="3024" y1="867.4" x2="3030" y2="867.4" stroke-width="1.2" />
<line x1="3024" y1="885.6" x2="3030" y2="885.6" stroke-width="1.2" />
<line x1="3024" y1="903.8" x2="3030" y2="903.8" stroke-width="1.2" />
<line x1="3024" y1="922" x2="3030" y2="922" stroke-width="1.2" />
<line x1="3024" y1="940.2" x2="3030" y2="940.2" stroke-width="1.2" />
<line x1="3024" y1="958.4" x2="3030" y2="958.4" stroke-width="1.2" />
<line x1="3024" y1="976.6" x2="3030" y2="976.6" stroke-width="1.2" />
<line x1="3024" y1="994.8" x2="3030" y2="994.8" stroke-width="1.2" />
<line x1="3024" y1="1013" x2="3030" y2="1013" stroke-width="1.2" />
<line x1="3024" y1="1031.2" x2="3030" y2="1031.2" stroke-width="1.2" />
<line x1="3024" y1="1049.4" x2="3030" y2="1049.4" stroke-width="1.2" />
<line x1="3024" y1="1067.6" x2="3030" y2="1067.6" stroke-width="1.2" />
<line x1="3024" y1="1085.8" x2="3030" y2="1085.8" stroke-width="1.2" />
<line x1="3024" y1="1104" x2="3030" y2="1104" stroke-width="1.2" />
<line x1="3024" y1="1122.2" x2="3030" y2="1122.2" stroke-width="1.2" />
<polyline points="2461,793 2807,596 2813,600 2467,797" stroke-width="3.8" fill="none" stroke-linejoin="round" stroke-linecap="round"/>
<polyline points="2813,598 2813,989" stroke-width="5.5" fill="none" stroke-linejoin="round" stroke-linecap="round"/>
<polyline points="2813,601 3022,721 3022,1150" stroke-width="3.5" fill="none" stroke-linejoin="round" stroke-linecap="round"/>
<polyline points="2822,596 3031,716.5 3031,1148 3023,1151" stroke-width="3.2" fill="none" stroke-linejoin="round" stroke-linecap="round"/>
<polyline points="3023,1151 2937,1100" stroke-width="3.2" fill="none" stroke-linejoin="round" stroke-linecap="round"/>
<path d="M2679.7,1015.8 C2723.2,997.3 2769.4,989.9 2811.9,990.3 C2880.3,991.8 2954.2,1013.9 3004,1052 L2927,1098 L2847.5,1150.5 L2773.6,1193.5 L2697,1228.5 L2680,1223 Z" fill="#a9a6a3" stroke="#000" stroke-width="3.5"/>
<polygon points="3004,1052 2927,1098 2847.5,1150.5 2773.6,1193.5 2697,1228.5 2680,1223 2680,1227 2697,1234 2773.6,1202.5 2847.5,1161 2927,1108.5 3004,1056" fill="#0c0c0c" stroke-width="2.5" />
<path d="M2925,1104.5 L2847.5,1156 L2776,1198" stroke="#5a5a58" stroke-width="1.6" fill="none"/>
<g transform="translate(2721,1176) skewY(-29.7)">
<path d="M0,0 L0,-67 L160,-67 Q170,-67 176,-60 L192,-42 A22,22 0 0 1 165,-9 Q156,-11 150,-17 L37,-17 L37,0 Z" fill="#4c4c4a" stroke="#000" stroke-width="5.5" stroke-linejoin="miter"/>
<path d="M7,-7 L7,-60 L158,-60 Q166,-60 171,-54 L186,-38 A16,16 0 0 1 166,-15 Q158,-18 154,-24 L30,-24 L30,-7 Z" fill="none" stroke="#2a2a29" stroke-width="2"/>
<text x="10" y="-12" font-size="56" font-weight="bold" textLength="30" lengthAdjust="spacingAndGlyphs" style="fill:#9a9a98;stroke:#000;stroke-width:2.6px;paint-order:stroke;font-family:'Liberation Sans',sans-serif">F</text>
<text x="44" y="-34" font-size="25" font-weight="bold" textLength="100" lengthAdjust="spacingAndGlyphs" style="fill:#9a9a98;stroke:#000;stroke-width:2.6px;paint-order:stroke;font-family:'Liberation Sans',sans-serif">IREZO</text>
<path d="M170,-54 C186,-44 186,-22 172,-12 C160,-12 157,-26 164,-36 C168,-42 170,-48 170,-54 Z" fill="#b9b9b7" stroke="#000" stroke-width="2.6"/>
<path d="M177,-40 C179,-30 174,-24 169,-17" fill="none" stroke="#000" stroke-width="2.2"/>
</g>
<polygon points="2461,800 2673,921 2673,1353.5 2461,1233" fill="url(#gFL)" stroke="none" />
<polygon points="2461,953 2594,878 2671,922 2671,943 2594,943 2461,1020" fill="#5f615e" stroke="none" opacity="0.75"/>
<path d="M2463,953 L2594,878.5" stroke="#8b8d8a" stroke-width="3" opacity="0.7" fill="none"/>
<polygon points="2671,920 2680,918 2680,1350 2671,1353.5" fill="#5d5f5c" stroke="none" />
<path d="M2590,1127 C2596,1165 2630,1200 2668,1220 M2590,1241 C2596,1280 2630,1312 2668,1330" stroke="#565855" stroke-width="1.6" fill="none"/>
<polyline points="2461,793 2461,1233" stroke-width="6" fill="none" stroke-linejoin="round" stroke-linecap="round"/>
<polyline points="2461,1233 2673,1353.5" stroke-width="4" fill="none" stroke-linejoin="round" stroke-linecap="round"/>
<polyline points="2463,803 2676,923.5" stroke-width="4" fill="none" stroke-linejoin="round" stroke-linecap="round"/>
<polyline points="2471,799 2680,917.5" stroke-width="3.6" fill="none" stroke-linejoin="round" stroke-linecap="round"/>
<polyline points="2680,917.5 2680,1350" stroke-width="2.8" fill="none" stroke-linejoin="round" stroke-linecap="round"/>
<polyline points="2670.5,921 2670.5,1353.5 2680,1350" stroke-width="2.6" fill="none" stroke-linejoin="round" stroke-linecap="round"/>
<polyline points="2675.5,921 2675.5,1351" stroke-width="1.6" fill="none" stroke-linejoin="round" stroke-linecap="round"/>
<path d="M2497,1150 Q2510,1140 2520,1150 L2537,1155 L2537,1215 L2497,1200 Z" fill="#858785" stroke="none" opacity="0.8"/>
<path d="M2494,1222 L2494,1275 Q2509,1290 2525,1276 L2525,1230 Z" fill="url(#gCyl)" stroke="#000" stroke-width="3.5"/>
<ellipse cx="2508" cy="1226" rx="14" ry="6.5" transform="rotate(28 2508 1226)" fill="#fff" stroke="#000" stroke-width="2.5"/>
</g>
<g id="texts">
<text class="g" x="2459.7" y="69" font-size="24.6" textLength="45.9" lengthAdjust="spacingAndGlyphs">Поз.</text>
<text class="g" x="2626.3" y="69" font-size="24.6" textLength="151.3" lengthAdjust="spacingAndGlyphs">Обозначение</text>
<text class="g" x="2961.5" y="69" font-size="24.6" textLength="171.5" lengthAdjust="spacingAndGlyphs">Наименование</text>
<text class="g" x="3213.8" y="69" font-size="24.6" textLength="45.8" lengthAdjust="spacingAndGlyphs">Кол.</text>
<text class="g" x="2988.6" y="144.6" font-size="24.6" textLength="176.4" lengthAdjust="spacingAndGlyphs">Документация</text>
<text class="g" x="2521.3" y="184.6" font-size="24.6" textLength="303.7" lengthAdjust="spacingAndGlyphs">КФ-010СБ Камин фазенда</text>
<text class="g" x="2895.9" y="184.6" font-size="24.6" textLength="221.8" lengthAdjust="spacingAndGlyphs">Сборочный чертеж</text>
<text class="g" x="2961.5" y="223.6" font-size="24.6" textLength="230.1" lengthAdjust="spacingAndGlyphs">Сборочные единицы</text>
<text class="g" x="2521.3" y="264.4" font-size="24.6" textLength="241.5" lengthAdjust="spacingAndGlyphs">КФ-020СБ Топка 100</text>
<text class="g" x="3032.9" y="302.4" font-size="24.6" textLength="91.1" lengthAdjust="spacingAndGlyphs">Детали</text>
<text class="g" x="2521.3" y="343.5" font-size="24.6" textLength="285.9" lengthAdjust="spacingAndGlyphs">КФ-001 Стенка боковая</text>
<text class="g" x="2521.3" y="381.6" font-size="24.6" textLength="141" lengthAdjust="spacingAndGlyphs">КФ-002 Дно</text>
<text class="g" x="2521.3" y="420" font-size="24.6" textLength="267.7" lengthAdjust="spacingAndGlyphs">КФ-003 Дно под топку</text>
<text class="g" x="2521.3" y="460.6" font-size="24.6" textLength="184.4" lengthAdjust="spacingAndGlyphs">Стекло 185х200</text>
<text class="g" x="2521.3" y="498.8" font-size="24.6" textLength="341.6" lengthAdjust="spacingAndGlyphs">Полкодержатель для стекла</text>
<text class="g" x="2521.3" y="538.4" font-size="24.6" textLength="150.8" lengthAdjust="spacingAndGlyphs">(5-6мм) хром</text>
<text class="g" x="2521.3" y="579" font-size="24.6" textLength="204.6" lengthAdjust="spacingAndGlyphs">КФ-011 Накладка</text>
<text class="g" x="2477.9" y="264.4" font-size="24.6" textLength="10.5" lengthAdjust="spacingAndGlyphs">1</text>
<text class="g" x="2477.9" y="343.5" font-size="24.6" textLength="10.5" lengthAdjust="spacingAndGlyphs">2</text>
<text class="g" x="2477.9" y="383" font-size="24.6" textLength="10.5" lengthAdjust="spacingAndGlyphs">3</text>
<text class="g" x="2477.9" y="422.5" font-size="24.6" textLength="10.5" lengthAdjust="spacingAndGlyphs">4</text>
<text class="g" x="2477.9" y="460.6" font-size="24.6" textLength="10.5" lengthAdjust="spacingAndGlyphs">5</text>
<text class="g" x="2477.9" y="500.5" font-size="24.6" textLength="10.5" lengthAdjust="spacingAndGlyphs">6</text>
<text class="g" x="2477.9" y="579" font-size="24.6" textLength="10.5" lengthAdjust="spacingAndGlyphs">7</text>
<text class="g" x="3232.8" y="186" font-size="24.6" textLength="10.5" lengthAdjust="spacingAndGlyphs">1</text>
<text class="g" x="3232.8" y="264.4" font-size="24.6" textLength="10.5" lengthAdjust="spacingAndGlyphs">1</text>
<text class="g" x="3232.8" y="343.5" font-size="24.6" textLength="10.5" lengthAdjust="spacingAndGlyphs">2</text>
<text class="g" x="3232.8" y="383" font-size="24.6" textLength="10.5" lengthAdjust="spacingAndGlyphs">1</text>
<text class="g" x="3232.8" y="422.5" font-size="24.6" textLength="10.5" lengthAdjust="spacingAndGlyphs">1</text>
<text class="g" x="3232.8" y="460.6" font-size="24.6" textLength="10.5" lengthAdjust="spacingAndGlyphs">4</text>
<text class="g" x="3232.8" y="500.5" font-size="24.6" textLength="10.5" lengthAdjust="spacingAndGlyphs">8</text>
<text class="g" x="3232.8" y="579" font-size="24.6" textLength="10.5" lengthAdjust="spacingAndGlyphs">2</text>
<text class="g" x="230.7" y="1918.5" font-size="37.9" textLength="17.3" lengthAdjust="spacingAndGlyphs">1.</text>
<text class="g w" x="297.2" y="1918.5" font-size="37.9" textLength="390.3" lengthAdjust="spacingAndGlyphs">*Размеры для справок.</text>
<text class="g" x="229.2" y="1959.8" font-size="37.9" textLength="24.6" lengthAdjust="spacingAndGlyphs">2.</text>
<text class="g w" x="297.2" y="1959.8" font-size="37.9" textLength="549.5" lengthAdjust="spacingAndGlyphs">Сварная конструкция III класса.</text>
<text class="g" x="229.2" y="2001" font-size="37.9" textLength="24.6" lengthAdjust="spacingAndGlyphs">3.</text>
<text class="g w" x="297.2" y="2001" font-size="37.9" textLength="1107.4" lengthAdjust="spacingAndGlyphs">Контроль сварных швов по ГОСТ 3242-79 (технический осмотр).</text>
<text class="g" x="229.2" y="2042.3" font-size="37.9" textLength="24.6" lengthAdjust="spacingAndGlyphs">4.</text>
<text class="g w" x="297.2" y="2042.3" font-size="37.9" textLength="101" lengthAdjust="spacingAndGlyphs">±t2/2.</text>
<text class="g" x="229.2" y="2083.6" font-size="37.9" textLength="24.6" lengthAdjust="spacingAndGlyphs">5.</text>
<text class="g w" x="297.2" y="2083.6" font-size="37.9" textLength="1182.3" lengthAdjust="spacingAndGlyphs">Выступание сварных швов за внешние поверхности не допускается.</text>
<text class="g" x="229.2" y="2124.8" font-size="37.9" textLength="24.6" lengthAdjust="spacingAndGlyphs">6.</text>
<text class="g w" x="297.2" y="2124.8" font-size="37.9" textLength="606.2" lengthAdjust="spacingAndGlyphs">Налипание окалин не допускается.</text>
<text class="g" x="229.2" y="2166.1" font-size="37.9" textLength="24.6" lengthAdjust="spacingAndGlyphs">7.</text>
<text class="g w" x="297.2" y="2166.1" font-size="37.9" textLength="617" lengthAdjust="spacingAndGlyphs">Острые боковые кромки притупить.</text>
<text class="g" x="229.2" y="2207.4" font-size="37.9" textLength="24.6" lengthAdjust="spacingAndGlyphs">8.</text>
<text class="g w" x="297.2" y="2207.4" font-size="37.9" textLength="629.4" lengthAdjust="spacingAndGlyphs">Разность диагоналей не более 3 мм.</text>
<text class="g" x="229.2" y="2248.7" font-size="37.9" textLength="24.6" lengthAdjust="spacingAndGlyphs">9.</text>
<text class="g w" x="297.2" y="2248.7" font-size="37.9" textLength="1219.3" lengthAdjust="spacingAndGlyphs">Покрытие поверхностей: порошковая покраска чёрный матовый цвет.</text>
<text class="g w" x="1486.9" y="1569.6" font-size="37.9" textLength="125.7" lengthAdjust="spacingAndGlyphs">m=16 кг</text>
<text class="g w" x="1486.9" y="1615.4" font-size="37.9" textLength="184.8" lengthAdjust="spacingAndGlyphs">S= 1,4 м.кв.</text>
<text class="g w" x="1486.9" y="1662.2" font-size="37.9" textLength="215.4" lengthAdjust="spacingAndGlyphs">m нерж =2 кг</text>
<text class="g" x="1815.6" y="2056.5" font-size="34" textLength="47.9" lengthAdjust="spacingAndGlyphs">Изм.</text>
<text class="g" x="1877.7" y="2056.5" font-size="34" textLength="60.1" lengthAdjust="spacingAndGlyphs">Лист</text>
<text class="g" x="1982.2" y="2056.5" font-size="34" textLength="110.9" lengthAdjust="spacingAndGlyphs">№ докум.</text>
<text class="g" x="2154.7" y="2056.5" font-size="34" textLength="65" lengthAdjust="spacingAndGlyphs">Подп.</text>
<text class="g" x="2251.7" y="2056.5" font-size="34" textLength="68.1" lengthAdjust="spacingAndGlyphs">Дата</text>
<text class="g" x="1817.1" y="2095.9" font-size="34" textLength="96.1" lengthAdjust="spacingAndGlyphs">Разраб.</text>
<text class="g" x="1951.2" y="2092" font-size="34" textLength="200.1" lengthAdjust="spacingAndGlyphs">Администратор</text>
<text class="g" x="1817.1" y="2134.4" font-size="34" textLength="65.1" lengthAdjust="spacingAndGlyphs">Пров.</text>
<text class="g" x="1817.1" y="2173.8" font-size="34" textLength="108.4" lengthAdjust="spacingAndGlyphs">Т. контр.</text>
<text class="g" x="1817.1" y="2213.2" font-size="34" textLength="105.9" lengthAdjust="spacingAndGlyphs">Нач.отд.</text>
<text class="g" x="1817.1" y="2252.2" font-size="34" textLength="108.4" lengthAdjust="spacingAndGlyphs">Н. контр.</text>
<text class="g" x="1817.1" y="2291.6" font-size="34" textLength="52.7" lengthAdjust="spacingAndGlyphs">Утв.</text>
<text class="g" x="2246.5" y="2095.9" font-size="24" textLength="73.3" lengthAdjust="spacingAndGlyphs">18.01.2023</text>
<text class="a" x="2618.9" y="1952" font-size="75" textLength="364.7" lengthAdjust="spacingAndGlyphs">КФ-010СБ</text>
<text class="a" x="2441.5" y="2076.2" font-size="51.6" textLength="316.9" lengthAdjust="spacingAndGlyphs">Камин фазенда</text>
<text class="a" x="2457.3" y="2170.8" font-size="34.6" textLength="283.9" lengthAdjust="spacingAndGlyphs">Сборочный чертеж</text>
<text class="g" x="2908.2" y="2016" font-size="34" textLength="53.3" lengthAdjust="spacingAndGlyphs">Лит.</text>
<text class="g" x="3023" y="2016" font-size="34" textLength="74" lengthAdjust="spacingAndGlyphs">Масса</text>
<text class="g" x="3141.4" y="2016" font-size="34" textLength="115.8" lengthAdjust="spacingAndGlyphs">Масштаб</text>
<text class="g" x="3024" y="2093.5" font-size="36" textLength="72" lengthAdjust="spacingAndGlyphs">20,46</text>
<text class="g" x="3173.4" y="2093.5" font-size="36" textLength="49.3" lengthAdjust="spacingAndGlyphs">1 : 4</text>
<text class="g" x="2888.5" y="2174.8" font-size="34" textLength="59.7" lengthAdjust="spacingAndGlyphs">Лист</text>
<text class="g" x="3045.2" y="2174.8" font-size="34" textLength="88.8" lengthAdjust="spacingAndGlyphs">Листов</text>
<text class="g" x="3203" y="2174.8" font-size="34" textLength="10" lengthAdjust="spacingAndGlyphs">1</text>
<text class="g" x="2549.9" y="2326.6" font-size="31" textLength="133.1" lengthAdjust="spacingAndGlyphs">Копировал</text>
<text class="g" x="2917.1" y="2326.6" font-size="31" textLength="138" lengthAdjust="spacingAndGlyphs">Формат А3</text>
<text class="g" transform="translate(96,357.3) rotate(-90)" font-size="34" textLength="167.6" lengthAdjust="spacingAndGlyphs">Перв. примен.</text>
<text class="g" transform="translate(96,801.5) rotate(-90)" font-size="34" textLength="111.9" lengthAdjust="spacingAndGlyphs">Справ. №</text>
<text class="g" transform="translate(96,1374.2) rotate(-90)" font-size="34" textLength="157.7" lengthAdjust="spacingAndGlyphs">Подп. и дата</text>
<text class="g" transform="translate(96,1605.5) rotate(-90)" font-size="34" textLength="150" lengthAdjust="spacingAndGlyphs">Инв. № дубл.</text>
<text class="g" transform="translate(96,1805.1) rotate(-90)" font-size="34" textLength="161.6" lengthAdjust="spacingAndGlyphs">Взам. инв. №</text>
<text class="g" transform="translate(96,2044.2) rotate(-90)" font-size="34" textLength="157.7" lengthAdjust="spacingAndGlyphs">Подп. и дата</text>
<text class="g" transform="translate(96,2278.3) rotate(-90)" font-size="34" textLength="165.1" lengthAdjust="spacingAndGlyphs">Инв. № подл.</text>
<text class="g w" x="822" y="91.2" font-size="37.9" textLength="50.3" lengthAdjust="spacingAndGlyphs">185</text>
<text class="g w" transform="translate(253.5,562.8) rotate(-90)" font-size="37.9" textLength="60.1" lengthAdjust="spacingAndGlyphs">1016</text>
<text class="g w" transform="translate(343.5,751.6) rotate(-90)" font-size="37.9" textLength="59.1" lengthAdjust="spacingAndGlyphs">840</text>
<text class="g w" transform="translate(546,440.1) rotate(-90)" font-size="37.9" textLength="38.4" lengthAdjust="spacingAndGlyphs">30</text>
<text class="g w" transform="translate(611,671.3) rotate(-90)" font-size="37.9" textLength="47.8" lengthAdjust="spacingAndGlyphs">102</text>
<text class="g w" transform="translate(1100.5,340) rotate(-90)" font-size="37.9" textLength="56.6" lengthAdjust="spacingAndGlyphs">200</text>
<text class="g w" x="840.3" y="670.3" font-size="37.9" textLength="43.4" lengthAdjust="spacingAndGlyphs">114</text>
<text class="g" x="384.4" y="411.5" font-size="51.6" textLength="28.6" lengthAdjust="spacingAndGlyphs">Б</text>
<text class="g" x="1282.4" y="411" font-size="51.6" textLength="28.5" lengthAdjust="spacingAndGlyphs">Б</text>
<text class="g w" x="1767.8" y="374.6" font-size="51.6" textLength="91.2" lengthAdjust="spacingAndGlyphs">Б–Б</text>
<text class="g" x="320.4" y="1536.8" font-size="51.6" textLength="27.1" lengthAdjust="spacingAndGlyphs">А</text>
<text class="g" x="1361.2" y="1536.8" font-size="51.6" textLength="28.6" lengthAdjust="spacingAndGlyphs">А</text>
<text class="g w" transform="translate(394.3,1413.6) rotate(-90)" font-size="37.9" textLength="78.8" lengthAdjust="spacingAndGlyphs">165,7</text>
<text class="g w" x="887.1" y="1674.5" font-size="37.9" textLength="59.2" lengthAdjust="spacingAndGlyphs">400</text>
<text class="g w" x="808.3" y="1827.3" font-size="37.9" textLength="78.8" lengthAdjust="spacingAndGlyphs">165,2</text>
<text class="g w" transform="translate(512.6,1044) rotate(-45)" x="-40" y="9" font-size="37.9" textLength="80" lengthAdjust="spacingAndGlyphs">165,2</text>
<text class="g w" transform="translate(517.5,1241) rotate(-64)" x="-34" y="10" font-size="37.9" textLength="68" lengthAdjust="spacingAndGlyphs">135°</text>
<text class="g w" transform="translate(512.6,1716.4) rotate(45)" x="-40" y="9" font-size="37.9" textLength="80" lengthAdjust="spacingAndGlyphs">165,7</text>
<circle cx="1464" cy="705.1" r="11.5" stroke-width="2.4" fill="none" />
<line x1="1455.5" y1="722.6" x2="1474.5" y2="687.6" stroke-width="2.4" />
<text class="g w" x="1486.5" y="718.6" font-size="37.9" textLength="47.2" lengthAdjust="spacingAndGlyphs">170</text>
<circle cx="2115" cy="696.2" r="11.5" stroke-width="2.4" fill="none" />
<line x1="2106.5" y1="713.7" x2="2125.5" y2="678.7" stroke-width="2.4" />
<text class="g w" x="2137.5" y="709.7" font-size="37.9" textLength="44.3" lengthAdjust="spacingAndGlyphs">100</text>
</g>
</svg>
</body></html>
